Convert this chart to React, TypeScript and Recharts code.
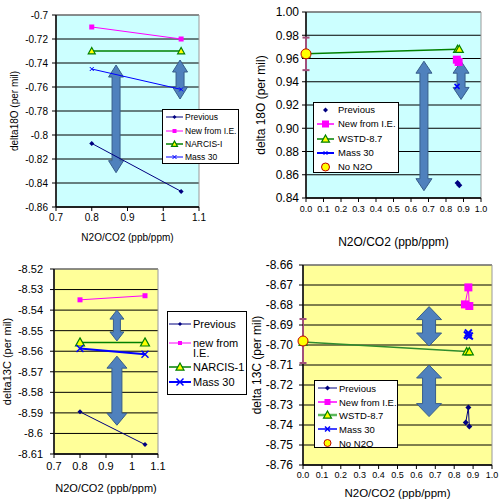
import React from 'react';
import {
  ScatterChart,
  Scatter,
  XAxis,
  YAxis,
  CartesianGrid,
  ReferenceLine,
  ReferenceArea,
  Legend,
} from 'recharts';

// ---------- top left: delta18O, NARCIS-I ----------
const tlRatio = [0.8, 1.05];
const tlPrevious = [-0.807, -0.847];
const tlNewIE = [-0.71, -0.72];
const tlNarcis = [-0.73, -0.73];
const tlMass30 = [-0.745, -0.762];
const tlXTicks = [0.7, 0.8, 0.9, 1, 1.1];
const tlYTicks = [-0.86, -0.84, -0.82, -0.8, -0.78, -0.76, -0.74, -0.72, -0.7];
const tlArrowX = [0.868, 1.047];
const tlArrowTop = [-0.7417, -0.7375];
const tlArrowBottom = [-0.8314, -0.77];

// ---------- top right: delta 18O, WSTD-8.7 ----------
const trNoN2OX = [0];
const trNoN2OY = [0.964];
const trNoN2OErr = [0.014];
const trWstdX = [0, 0.866, 0.876];
const trWstdY = [0.964, 0.968, 0.968];
const trNewIEX = [0.862, 0.872];
const trNewIEY = [0.959, 0.957];
const trMass30X = [0.863];
const trMass30Y = [0.936];
const trPreviousX = [0.866, 0.876];
const trPreviousY = [0.853, 0.851];
const trXTicks = [0, 0.1, 0.2, 0.3, 0.4, 0.5, 0.6, 0.7, 0.8, 0.9, 1];
const trYTicks = [0.84, 0.86, 0.88, 0.9, 0.92, 0.94, 0.96, 0.98, 1];
const trArrowX = [0.674, 0.886];
const trArrowTop = [0.9577, 0.9577];
const trArrowBottom = [0.8463, 0.9248];

// ---------- bottom left: delta13C, NARCIS-1 ----------
const blRatio = [0.8, 1.05];
const blPrevious = [-8.5895, -8.6054];
const blNewIE = [-8.535, -8.533];
const blNarcis = [-8.5557, -8.5557];
const blMass30 = [-8.5587, -8.5615];
const blXTicks = [0.7, 0.8, 0.9, 1, 1.1];
const blYTicks = [-8.61, -8.6, -8.59, -8.58, -8.57, -8.56, -8.55, -8.54, -8.53, -8.52];
const blArrowX = [0.942, 0.942];
const blArrowTop = [-8.54, -8.5624];
const blArrowBottom = [-8.555, -8.596];

// ---------- bottom right: delta 13C, WSTD-8.7 ----------
const brNoN2OX = [0];
const brNoN2OY = [-8.698];
const brNoN2OErr = [0.011];
const brWstdX = [0, 0.866, 0.88];
const brWstdY = [-8.6985, -8.7033, -8.7033];
const brNewIEX = [0.857, 0.875, 0.88];
const brNewIEY = [-8.6797, -8.6712, -8.6805];
const brMass30X = [0.87, 0.875, 0.88];
const brMass30Y = [-8.695, -8.694, -8.6955];
const brPreviousX = [0.861, 0.875, 0.88];
const brPreviousY = [-8.7388, -8.7312, -8.7408];
const brXTicks = [0, 0.1, 0.2, 0.3, 0.4, 0.5, 0.6, 0.7, 0.8, 0.9, 1];
const brYTicks = [-8.76, -8.75, -8.74, -8.73, -8.72, -8.71, -8.7, -8.69, -8.68, -8.67, -8.66];
const brArrowX = [0.667, 0.667];
const brArrowTop = [-8.6808, -8.71];
const brArrowBottom = [-8.7005, -8.7358];

const FONT = '"Liberation Sans", Arial, sans-serif';
const NAVY = '#000080';
const PINK = '#ff00ff';
const GREEN = '#008000';
const BLUE = '#0000ff';
const CYAN_BG = '#ccffff';
const YELLOW_BG = '#ffff99';
const ERR = '#a0507a';

type Kind = 'diamond' | 'square' | 'triangle' | 'x' | 'circle';

const pts = (xs: number[], ys: number[]) => xs.map((x, i) => ({ x, y: ys[i] }));

const general = (v: number) => String(+v.toFixed(2));
const fixed1 = (v: number) => v.toFixed(1);
const fixed2 = (v: number) => v.toFixed(2);

function marker(kind: Kind, cx: number, cy: number, s: number, color: string, sw = 1) {
  const h = s / 2;
  switch (kind) {
    case 'diamond':
      return <polygon points={`${cx},${cy - h} ${cx + h},${cy} ${cx},${cy + h} ${cx - h},${cy}`} fill={color} />;
    case 'square':
      return <rect x={cx - h} y={cy - h} width={s} height={s} fill={color} />;
    case 'triangle':
      return (
        <polygon
          points={`${cx},${cy - h} ${cx + h},${cy + h * 0.8} ${cx - h},${cy + h * 0.8}`}
          fill="#ffff00"
          stroke={color}
          strokeWidth={1.2}
        />
      );
    case 'x':
      return (
        <g stroke={color} strokeWidth={sw}>
          <line x1={cx - h} y1={cy - h} x2={cx + h} y2={cy + h} />
          <line x1={cx - h} y1={cy + h} x2={cx + h} y2={cy - h} />
        </g>
      );
    default:
      return <circle cx={cx} cy={cy} r={h} fill="#ffff00" stroke="#c00000" strokeWidth={1} />;
  }
}

const shapeOf = (kind: Kind, s: number, color: string, sw = 1) => (p: any) => marker(kind, p.cx, p.cy, s, color, sw);

// double headed block arrow along a vertical segment
const arrowShape = (headW: number, shaftW: number, headL: number) => (p: any) => {
  const x = p.x1;
  const top = Math.min(p.y1, p.y2);
  const bot = Math.max(p.y1, p.y2);
  const hw = headW / 2;
  const sw = shaftW / 2;
  const points = [
    [x, top],
    [x + hw, top + headL],
    [x + sw, top + headL],
    [x + sw, bot - headL],
    [x + hw, bot - headL],
    [x, bot],
    [x - hw, bot - headL],
    [x - sw, bot - headL],
    [x - sw, top + headL],
    [x - hw, top + headL],
  ]
    .map((q) => q.join(','))
    .join(' ');
  return <polygon points={points} fill="#4f81bd" stroke="#385d8a" strokeWidth={1} />;
};

// error bar with caps
const errShape = (cap: number) => (p: any) => {
  const x = p.x1;
  return (
    <g stroke={ERR} strokeWidth={2}>
      <line x1={x} x2={x} y1={p.y1} y2={p.y2} />
      <line x1={x - cap / 2} x2={x + cap / 2} y1={p.y1} y2={p.y1} />
      <line x1={x - cap / 2} x2={x + cap / 2} y1={p.y2} y2={p.y2} />
    </g>
  );
};

interface LegendItem {
  label: string[];
  kind: Kind;
  color: string;
  size: number;
  y: number;
  line?: number;
  lineColor?: string;
  sw?: number;
}

interface LegendBoxProps {
  width: number;
  height: number;
  font: number;
  lineFrom: number;
  lineTo: number;
  textX: number;
  lineH: number;
  items: LegendItem[];
}

const LegendBox: React.FC<LegendBoxProps> = ({ width, height, font, lineFrom, lineTo, textX, lineH, items }) => (
  <div
    style={{
      position: 'relative',
      width,
      height,
      border: '1px solid #000',
      background: '#fff',
      boxSizing: 'border-box',
      fontFamily: FONT,
      fontSize: font,
      color: '#000',
    }}
  >
    {items.map((it, i) => (
      <React.Fragment key={i}>
        <svg style={{ position: 'absolute', left: 0, top: it.y - 7 }} width={textX} height={14}>
          {it.line ? (
            <line x1={lineFrom} x2={lineTo} y1={7} y2={7} stroke={it.lineColor || it.color} strokeWidth={it.line} />
          ) : null}
          {marker(it.kind, (lineFrom + lineTo) / 2, 7, it.size, it.color, it.sw || 1)}
        </svg>
        {it.label.map((t, j) => (
          <div
            key={j}
            style={{
              position: 'absolute',
              left: textX,
              top: it.y - lineH / 2 + j * lineH,
              lineHeight: `${lineH}px`,
              whiteSpace: 'nowrap',
            }}
          >
            {t}
          </div>
        ))}
      </React.Fragment>
    ))}
  </div>
);

const legendProps = (left: number, top: number, width: number, height: number, box: React.ReactNode) => ({
  layout: 'vertical' as const,
  align: 'center' as const,
  verticalAlign: 'middle' as const,
  wrapperStyle: { left, top, width, height },
  content: () => box,
});

const axisLine = { stroke: '#000', strokeWidth: 1.5 };
const tickLine = { stroke: '#000' };

// dims: [head width, shaft width, head length] per arrow
const arrows = (xs: number[], tops: number[], bots: number[], dims: number[][], id: string) =>
  xs.map((x, i) => (
    <ReferenceLine
      key={`${id}-${i}`}
      segment={[
        { x, y: tops[i] },
        { x, y: bots[i] },
      ]}
      shape={arrowShape(dims[i][0], dims[i][1], dims[i][2])}
    />
  ));

const errBars = (xs: number[], ys: number[], errs: number[], cap: number, id: string) =>
  xs.map((x, i) => (
    <ReferenceLine
      key={`${id}-e${i}`}
      segment={[
        { x, y: ys[i] + errs[i] },
        { x, y: ys[i] - errs[i] },
      ]}
      shape={errShape(cap)}
    />
  ));

const TopLeft = () => (
  <ScatterChart width={250} height={250} margin={{ top: 15, right: 51, bottom: 0, left: 0 }}>
    <CartesianGrid vertical={false} stroke="#000" fill={CYAN_BG} fillOpacity={1} />
    <ReferenceArea x1={0.7} x2={1.1} y1={-0.86} y2={-0.7} fill="none" stroke="#999" />
    <XAxis
      type="number"
      dataKey="x"
      domain={[0.7, 1.1]}
      ticks={tlXTicks}
      interval={0}
      tickFormatter={general}
      height={43}
      axisLine={axisLine}
      tickLine={tickLine}
      tickSize={4}
      tickMargin={3}
      tick={{ fontSize: 10, fill: '#000' }}
      label={{ value: 'N2O/CO2 (ppb/ppm)', position: 'insideBottom', offset: 9.5, fontSize: 10, fill: '#000' }}
    />
    <YAxis
      type="number"
      dataKey="y"
      domain={[-0.86, -0.7]}
      ticks={tlYTicks}
      interval={0}
      tickFormatter={general}
      width={56}
      axisLine={axisLine}
      tickLine={tickLine}
      tickSize={4}
      tickMargin={4}
      tick={{ fontSize: 10, fill: '#000' }}
      label={{
        value: 'delta18O (per mil)',
        angle: -90,
        position: 'insideLeft',
        offset: 14,
        fontSize: 10,
        fill: '#000',
        style: { textAnchor: 'middle' },
      }}
    />
    <Scatter data={pts(tlRatio, tlPrevious)} line={{ stroke: NAVY, strokeWidth: 1 }} shape={shapeOf('diamond', 5, NAVY)} isAnimationActive={false} />
    <Scatter data={pts(tlRatio, tlNewIE)} line={{ stroke: PINK, strokeWidth: 1 }} shape={shapeOf('square', 5, PINK)} isAnimationActive={false} />
    <Scatter data={pts(tlRatio, tlNarcis)} line={{ stroke: GREEN, strokeWidth: 1.5 }} shape={shapeOf('triangle', 7, GREEN)} isAnimationActive={false} />
    <Scatter data={pts(tlRatio, tlMass30)} line={{ stroke: BLUE, strokeWidth: 1 }} shape={shapeOf('x', 4, BLUE)} isAnimationActive={false} />
    {arrows(tlArrowX, tlArrowTop, tlArrowBottom, [[15, 8, 12], [15, 8, 12]], 'tl')}
    <Legend
      {...legendProps(
        162,
        109,
        77,
        55,
        <LegendBox
          width={77}
          height={55}
          font={8.5}
          lineFrom={3}
          lineTo={20}
          textX={22}
          lineH={11}
          items={[
            { label: ['Previous'], kind: 'diamond', color: NAVY, size: 4, y: 7, line: 1 },
            { label: ['New from I.E.'], kind: 'square', color: PINK, size: 4, y: 21, line: 1 },
            { label: ['NARCIS-I'], kind: 'triangle', color: GREEN, size: 6, y: 34, line: 1.5 },
            { label: ['Mass 30'], kind: 'x', color: BLUE, size: 4, y: 47, line: 1 },
          ]}
        />
      )}
    />
  </ScatterChart>
);

const TopRight = () => (
  <ScatterChart width={251} height={250} margin={{ top: 12, right: 20, bottom: 0, left: 0 }}>
    <CartesianGrid vertical={false} stroke="#000" fill={CYAN_BG} fillOpacity={1} />
    <ReferenceArea x1={0} x2={1} y1={0.84} y2={1} fill="none" stroke="#999" />
    <XAxis
      type="number"
      dataKey="x"
      domain={[0, 1]}
      ticks={trXTicks}
      interval={0}
      tickFormatter={fixed1}
      height={52}
      axisLine={axisLine}
      tickLine={tickLine}
      tickSize={4}
      tickMargin={4}
      tick={{ fontSize: 9, fill: '#000' }}
      label={{ value: 'N2O/CO2 (ppb/ppm)', position: 'insideBottom', offset: 4, fontSize: 12, fill: '#000' }}
    />
    <YAxis
      type="number"
      dataKey="y"
      domain={[0.84, 1]}
      ticks={trYTicks}
      interval={0}
      tickFormatter={fixed2}
      width={56}
      axisLine={false}
      tickLine={tickLine}
      tickSize={4}
      tickMargin={3}
      tick={{ fontSize: 12, fill: '#000' }}
      label={{
        value: 'delta 18O (per mil)',
        angle: -90,
        position: 'insideLeft',
        offset: 11,
        fontSize: 12,
        fill: '#000',
        style: { textAnchor: 'middle' },
      }}
    />
    {/* y axis line drawn here so the error bar sits on top of it */}
    <ReferenceLine x={0} stroke="#000" strokeWidth={1.5} />
    {errBars(trNoN2OX, trNoN2OY, trNoN2OErr, 7, 'tr')}
    <Scatter data={pts(trPreviousX, trPreviousY)} shape={shapeOf('diamond', 6, NAVY)} isAnimationActive={false} />
    <Scatter data={pts(trNewIEX, trNewIEY)} line={{ stroke: PINK, strokeWidth: 1 }} shape={shapeOf('square', 8, PINK)} isAnimationActive={false} />
    <Scatter data={pts(trWstdX, trWstdY)} line={{ stroke: GREEN, strokeWidth: 1.5 }} shape={shapeOf('triangle', 8, GREEN)} isAnimationActive={false} />
    <Scatter data={pts(trMass30X, trMass30Y)} line={{ stroke: BLUE, strokeWidth: 1 }} shape={shapeOf('x', 5, BLUE, 1.5)} isAnimationActive={false} />
    <Scatter data={pts(trNoN2OX, trNoN2OY)} shape={shapeOf('circle', 10, '#c00000')} isAnimationActive={false} />
    {arrows(trArrowX, trArrowTop, trArrowBottom, [[16, 8, 12], [16, 8, 12]], 'tr')}
    <Legend
      {...legendProps(
        63,
        102,
        86,
        71,
        <LegendBox
          width={86}
          height={71}
          font={9.5}
          lineFrom={3}
          lineTo={20}
          textX={24}
          lineH={12}
          items={[
            { label: ['Previous'], kind: 'diamond', color: NAVY, size: 5, y: 7 },
            { label: ['New from I.E.'], kind: 'square', color: PINK, size: 7, y: 21, line: 1.5 },
            { label: ['WSTD-8.7'], kind: 'triangle', color: GREEN, size: 8, y: 36, line: 1.5 },
            { label: ['Mass 30'], kind: 'x', color: BLUE, size: 4, y: 50, line: 2 },
            { label: ['No N2O'], kind: 'circle', color: '#c00000', size: 8, y: 64 },
          ]}
        />
      )}
    />
  </ScatterChart>
);

const BottomLeft = () => (
  <ScatterChart width={250} height={250} margin={{ top: 19, right: 92, bottom: 0, left: 0 }}>
    <CartesianGrid vertical={false} stroke="#000" fill={YELLOW_BG} fillOpacity={1} />
    <ReferenceArea x1={0.7} x2={1.1} y1={-8.61} y2={-8.52} fill="none" stroke="#999" />
    <XAxis
      type="number"
      dataKey="x"
      domain={[0.7, 1.1]}
      ticks={blXTicks}
      interval={0}
      tickFormatter={general}
      height={46}
      axisLine={axisLine}
      tickLine={tickLine}
      tickSize={4}
      tickMargin={4}
      tick={{ fontSize: 11, fill: '#000' }}
      label={{ value: 'N2O/CO2 (ppb/ppm)', position: 'insideBottom', offset: 8, fontSize: 11, fill: '#000' }}
    />
    <YAxis
      type="number"
      dataKey="y"
      domain={[-8.61, -8.52]}
      ticks={blYTicks}
      interval={0}
      tickFormatter={general}
      width={54}
      axisLine={axisLine}
      tickLine={tickLine}
      tickSize={4}
      tickMargin={7}
      tick={{ fontSize: 11, fill: '#000' }}
      label={{
        value: 'delta13C (per mil)',
        angle: -90,
        position: 'insideLeft',
        offset: 7,
        fontSize: 11,
        fill: '#000',
        style: { textAnchor: 'middle' },
      }}
    />
    <Scatter data={pts(blRatio, blPrevious)} line={{ stroke: NAVY, strokeWidth: 1 }} shape={shapeOf('diamond', 5, NAVY)} isAnimationActive={false} />
    <Scatter data={pts(blRatio, blNewIE)} line={{ stroke: PINK, strokeWidth: 1 }} shape={shapeOf('square', 5, PINK)} isAnimationActive={false} />
    <Scatter data={pts(blRatio, blNarcis)} line={{ stroke: GREEN, strokeWidth: 1.5 }} shape={shapeOf('triangle', 9, GREEN)} isAnimationActive={false} />
    <Scatter data={pts(blRatio, blMass30)} line={{ stroke: BLUE, strokeWidth: 2 }} shape={shapeOf('x', 7, BLUE, 1.5)} isAnimationActive={false} />
    {arrows(blArrowX, blArrowTop, blArrowBottom, [[14, 7, 9], [20, 10, 12]], 'bl')}
    <Legend
      {...legendProps(
        167,
        61,
        80,
        84,
        <LegendBox
          width={80}
          height={84}
          font={11}
          lineFrom={1}
          lineTo={23}
          textX={25}
          lineH={10.5}
          items={[
            { label: ['Previous'], kind: 'diamond', color: NAVY, size: 4, y: 12, line: 1 },
            { label: ['new from', 'I.E.'], kind: 'square', color: PINK, size: 4, y: 31, line: 1 },
            { label: ['NARCIS-1'], kind: 'triangle', color: GREEN, size: 8, y: 55, line: 1.5 },
            { label: ['Mass 30'], kind: 'x', color: BLUE, size: 7, y: 70, line: 2, sw: 1.5 },
          ]}
        />
      )}
    />
  </ScatterChart>
);

const BottomRight = () => (
  <ScatterChart width={251} height={250} margin={{ top: 15, right: 9, bottom: 0, left: 0 }}>
    <CartesianGrid vertical={false} stroke="#000" fill={YELLOW_BG} fillOpacity={1} />
    <ReferenceArea x1={0} x2={1} y1={-8.76} y2={-8.66} fill="none" stroke="#999" />
    <XAxis
      type="number"
      dataKey="x"
      domain={[0, 1]}
      ticks={brXTicks}
      interval={0}
      tickFormatter={fixed1}
      height={35}
      axisLine={axisLine}
      tickLine={tickLine}
      tickSize={4}
      tickMargin={3}
      tick={{ fontSize: 9, fill: '#000' }}
      label={{ value: 'N2O/CO2 (ppb/ppm)', position: 'insideBottom', offset: 3, fontSize: 11.5, fill: '#000' }}
    />
    <YAxis
      type="number"
      dataKey="y"
      domain={[-8.76, -8.66]}
      ticks={brYTicks}
      interval={0}
      tickFormatter={fixed2}
      width={53}
      axisLine={false}
      tickLine={tickLine}
      tickSize={4}
      tickMargin={6}
      tick={{ fontSize: 12, fill: '#000' }}
      label={{
        value: 'delta 13C (per mil)',
        angle: -90,
        position: 'insideLeft',
        offset: 7,
        fontSize: 12,
        fill: '#000',
        style: { textAnchor: 'middle' },
      }}
    />
    <ReferenceLine x={0} stroke="#000" strokeWidth={1.5} />
    {errBars(brNoN2OX, brNoN2OY, brNoN2OErr, 7, 'br')}
    <Scatter data={pts(brPreviousX, brPreviousY)} line={{ stroke: NAVY, strokeWidth: 1 }} shape={shapeOf('diamond', 6, NAVY)} isAnimationActive={false} />
    <Scatter data={pts(brNewIEX, brNewIEY)} line={{ stroke: PINK, strokeWidth: 1 }} shape={shapeOf('square', 8, PINK)} isAnimationActive={false} />
    <Scatter data={pts(brWstdX, brWstdY)} line={{ stroke: '#2e8b2e', strokeWidth: 1.5 }} shape={shapeOf('triangle', 8, GREEN)} isAnimationActive={false} />
    <Scatter data={pts(brMass30X, brMass30Y)} shape={shapeOf('x', 7, BLUE, 2)} isAnimationActive={false} />
    <Scatter data={pts(brNoN2OX, brNoN2OY)} shape={shapeOf('circle', 10, '#c00000')} isAnimationActive={false} />
    {arrows(brArrowX, brArrowTop, brArrowBottom, [[25, 13, 13], [25, 13, 13]], 'br')}
    <Legend
      {...legendProps(
        64,
        130,
        84,
        68,
        <LegendBox
          width={84}
          height={68}
          font={9.5}
          lineFrom={3}
          lineTo={22}
          textX={24}
          lineH={11}
          items={[
            { label: ['Previous'], kind: 'diamond', color: NAVY, size: 5, y: 7, line: 1 },
            { label: ['New from I.E.'], kind: 'square', color: PINK, size: 6, y: 21, line: 1.5 },
            { label: ['WSTD-8.7'], kind: 'triangle', color: GREEN, size: 8, y: 34, line: 2.5, lineColor: '#5cb85c' },
            { label: ['Mass 30'], kind: 'x', color: BLUE, size: 5, y: 48, line: 1.5, sw: 1.5 },
            { label: ['No N2O'], kind: 'circle', color: '#c00000', size: 7, y: 62 },
          ]}
        />
      )}
    />
  </ScatterChart>
);

const App: React.FC = () => (
  <div
    style={{
      position: 'absolute',
      left: 0,
      top: 0,
      width: 501,
      height: 500,
      background: '#fff',
      fontFamily: FONT,
    }}
  >
    <div style={{ position: 'absolute', left: 0, top: 0 }}>
      <TopLeft />
    </div>
    <div style={{ position: 'absolute', left: 250, top: 0 }}>
      <TopRight />
    </div>
    <div style={{ position: 'absolute', left: 0, top: 250 }}>
      <BottomLeft />
    </div>
    <div style={{ position: 'absolute', left: 250, top: 250 }}>
      <BottomRight />
    </div>
  </div>
);

export default App;
